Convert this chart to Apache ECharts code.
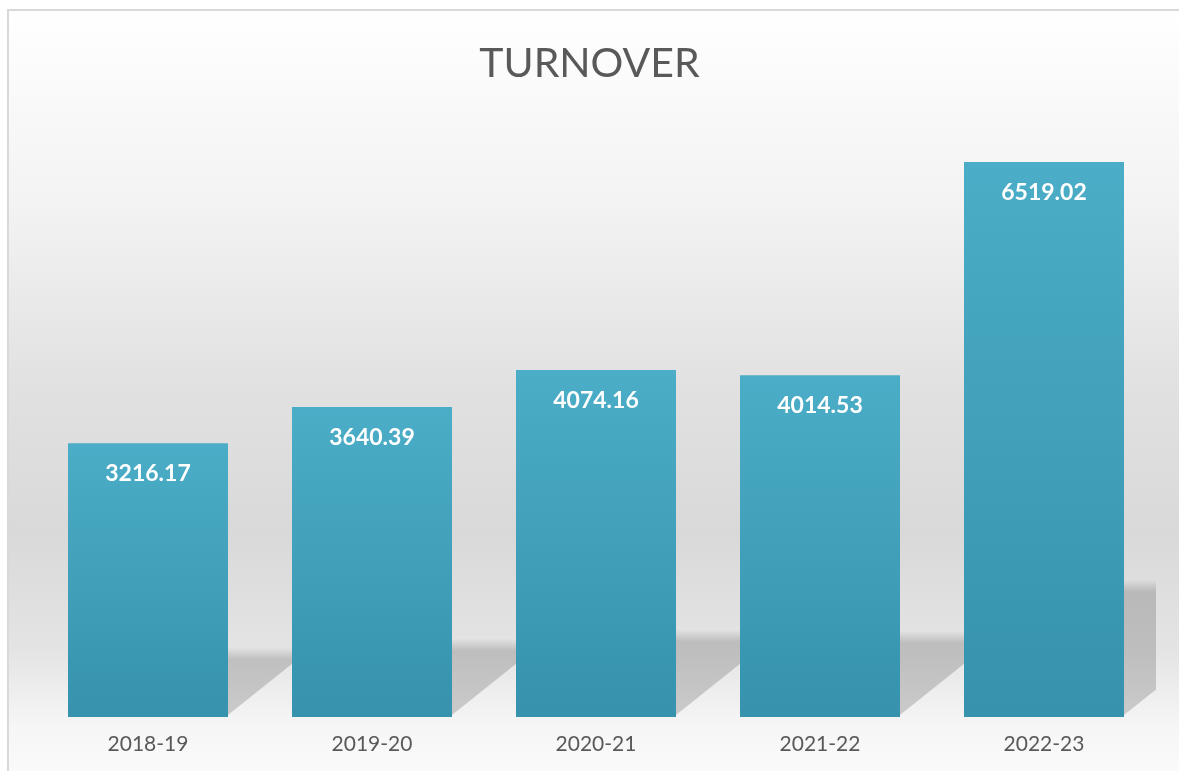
<!DOCTYPE html>
<html>
<head>
<meta charset="utf-8">
<title>Turnover</title>
<script src="https://cdn.jsdelivr.net/npm/echarts@6/dist/echarts.min.js"></script>
<style>
  html, body { margin: 0; padding: 0; background: #fff; }
  #main { width: 1179px; height: 771px; }
</style>
</head>
<body>
<div id="main"></div>
<script>
// 数据
var years = ['2018-19', '2019-20', '2020-21', '2021-22', '2022-23'];
var turnover = [3216.17, 3640.39, 4074.16, 4014.53, 6519.02];

(function () {
  var myChart = echarts.init(document.getElementById('main'));
  var barWidth = 160;
  var shadowRatio = 0.24; // 影子高度占柱子高度的比例

  var option = {
    animation: false,
    title: {
      text: 'TURNOVER',
      left: 'center',
      top: 38,
      textStyle: {
        fontFamily: 'Lato',
        fontWeight: 'normal',
        fontSize: 41,
        color: '#595959'
      }
    },
    // 背景 + 边框
    graphic: [{
      type: 'rect',
      z: -10,
      shape: { x: 8, y: 10, width: 1180, height: 770 },
      style: {
        fill: {
          type: 'linear', x: 0, y: 0, x2: 0, y2: 1,
          colorStops: [
            { offset: 0, color: '#ffffff' },
            { offset: 0.25, color: '#f3f3f3' },
            { offset: 0.49, color: '#e1e1e1' },
            { offset: 0.68, color: '#d9d9d9' },
            { offset: 0.83, color: '#e4e4e4' },
            { offset: 0.93, color: '#f6f6f6' },
            { offset: 1, color: '#fbfbfb' }
          ]
        },
        stroke: '#d9d9d9',
        lineWidth: 2
      }
    }],
    grid: {
      left: 36,
      right: 23,
      top: 121,
      bottom: 54
    },
    xAxis: {
      type: 'category',
      data: years,
      axisLine: { show: false },
      axisTick: { show: false },
      axisLabel: {
        margin: 17,
        fontFamily: 'Lato',
        fontSize: 21,
        color: '#595959'
      }
    },
    yAxis: {
      type: 'value',
      min: 0,
      max: 7000,
      show: false,
      splitLine: { show: false }
    },
    series: [{
      // 柱子投影
      type: 'custom',
      clip: true,
      z: 1,
      silent: true,
      encode: { x: 0, y: 1 },
      data: turnover.map(function (v, i) { return [i, v]; }),
      renderItem: function (params, api) {
        var i = api.value(0);
        var v = api.value(1);
        var base = api.coord([i, 0]);
        var top = api.coord([i, v * shadowRatio]);
        var R = base[0] + barWidth / 2;
        var B = base[1] - 2;
        var W = 66;
        var T = top[1] - 4;
        return {
          type: 'polygon',
          shape: {
            points: [[R, B], [R + W, B - W * 0.8], [R + W, T], [R, T]]
          },
          style: {
            // 顶部边缘渐变，模拟柔和阴影
            fill: {
              type: 'linear', global: true,
              x: 0, y: T, x2: 0, y2: T + 12,
              colorStops: [
                { offset: 0, color: 'rgba(0,0,0,0)' },
                { offset: 1, color: 'rgba(0,0,0,0.17)' }
              ]
            }
          }
        };
      }
    }, {
      name: 'Turnover',
      type: 'bar',
      z: 3,
      barWidth: barWidth,
      data: turnover,
      itemStyle: {
        color: new echarts.graphic.LinearGradient(0, 0, 0, 1, [
          { offset: 0, color: '#4badc7' },
          { offset: 1, color: '#3692ad' }
        ])
      },
      label: {
        show: true,
        position: 'insideTop',
        distance: 19,
        fontFamily: 'Lato',
        fontWeight: 'bold',
        fontSize: 23,
        color: '#ffffff',
        formatter: function (p) { return p.value.toFixed(2); }
      }
    }]
  };

  myChart.setOption(option);
  window.addEventListener('resize', function () {
    myChart.resize();
  });
})();
</script>
</body>
</html>
